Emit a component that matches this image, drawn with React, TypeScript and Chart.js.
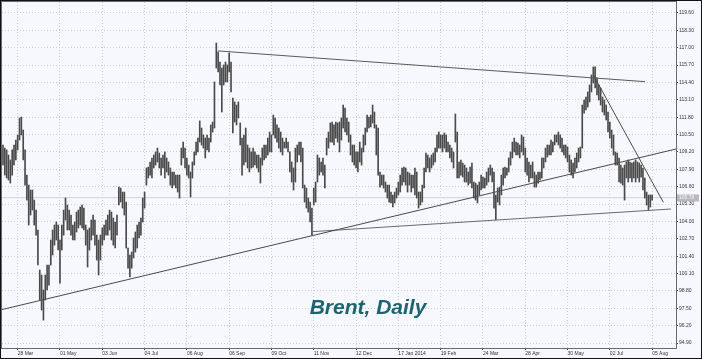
import { useEffect, useRef } from "react";
import { Chart, registerables } from "chart.js";
Chart.register(...registerables);

// Daily highs / lows of Brent (one value per trading day)
const highs = [
  110.62,110.24,109.72,109.49,109.35,108.97,108.60,109.35,109.72,110.09,
  110.47,111.74,111.81,110.84,109.35,107.47,106.72,106.35,106.35,105.60,
  104.85,103.36,100.36,99.99,98.87,99.99,100.74,100.74,102.61,103.36,
  103.73,103.96,103.73,102.61,103.73,104.85,105.75,105.23,104.85,104.48,
  103.73,103.96,104.70,104.85,105.08,105.23,105.00,103.73,103.36,103.51,
  104.11,104.48,104.11,102.98,102.61,102.98,103.51,103.73,104.11,104.48,
  104.85,104.70,104.25,
  103.96,104.48,106.57,106.50,106.20,106.20,105.45,102.01,101.49,101.71,
  102.76,103.21,103.73,103.96,104.25,105.75,106.20,108.00,108.07,108.45,
  108.75,108.97,109.20,109.49,109.12,108.75,108.97,109.20,108.75,108.45,
  108.00,107.70,107.70,107.47,107.47,107.47,109.49,109.94,109.49,108.75,
  108.22,107.70,108.45,109.20,109.94,110.24,111.52,110.99,110.47,110.24,
  110.47,110.24,111.22,111.44,114.44,117.35,116.68,115.93,115.48,115.71,
  115.93,115.71,
  116.61,115.93,113.24,112.94,112.71,112.94,111.37,110.24,110.47,110.99,
  109.72,109.49,109.20,109.49,109.20,108.97,108.97,108.75,109.49,109.72,
  109.72,110.24,110.69,110.47,111.96,111.74,111.22,110.99,110.69,110.24,
  109.94,110.24,109.94,109.20,108.45,108.00,109.49,109.72,109.94,109.94,
  109.49,106.72,106.50,105.75,105.45,105.00,106.50,106.95,108.97,108.75,
  108.45,108.75,108.22,110.24,110.69,111.37,111.44,111.22,111.44,111.37,
  111.44,111.74,
  112.71,112.49,111.74,111.44,110.47,109.72,109.72,109.20,109.20,109.94,
  109.49,110.47,110.99,111.96,111.81,111.96,112.71,112.19,111.22,110.99,
  107.70,107.47,107.47,106.95,106.72,106.72,106.20,105.98,106.20,106.50,
  106.95,107.47,108.00,108.07,108.00,107.70,107.62,107.47,107.47,108.00,
  107.70,106.20,106.20,106.72,108.00,109.12,108.97,108.75,108.97,109.12,
  109.49,110.47,110.69,110.47,110.47,110.62,110.47,109.94,109.72,109.49,
  109.20,
  112.04,110.69,108.45,108.60,108.37,108.22,108.00,107.70,108.07,108.37,
  106.95,106.87,106.72,106.95,107.47,107.32,107.25,107.70,108.00,108.22,
  108.00,107.70,105.98,106.50,106.57,107.47,108.00,108.07,108.00,108.75,
  109.20,109.94,110.24,109.94,109.87,109.72,110.47,110.32,109.49,108.75,
  108.45,108.22,108.45,107.70,107.47,107.70,107.70,108.75,108.75,109.49,
  109.72,109.72,110.09,109.94,110.47,110.47,110.69,110.47,110.24,109.72,
  109.72,
  109.57,108.97,108.60,108.37,108.75,109.12,109.49,109.57,112.71,113.09,
  113.31,113.69,114.21,114.96,115.56,115.56,114.74,114.21,113.99,113.31,
  113.09,112.71,112.19,111.44,110.84,110.47,109.20,109.12,108.75,108.22,
  108.00,108.22,108.45,108.60,108.45,108.37,108.45,108.60,108.45,108.37,
  108.22,108.00,107.25,106.20,105.98,105.98,105.98,
];

const lows = [
  109.35,108.60,108.22,107.47,107.25,107.10,106.87,107.47,108.22,108.60,
  109.35,110.09,110.47,108.60,106.72,105.60,103.73,104.48,104.85,103.73,
  102.98,100.74,98.12,97.37,96.62,98.12,98.87,99.24,100.74,101.49,
  102.23,102.61,101.86,99.39,101.86,102.98,104.11,103.36,103.36,102.98,
  102.61,102.61,103.21,103.51,103.73,103.51,103.36,102.23,100.59,101.86,
  102.61,102.98,102.23,101.11,99.99,101.11,102.23,102.61,102.98,102.98,
  103.36,102.61,102.23,
  102.01,102.98,105.23,105.45,105.00,104.48,102.01,100.51,99.84,100.51,
  101.26,101.71,102.01,102.76,102.98,103.96,105.00,106.72,107.25,107.47,
  107.25,108.00,108.22,108.45,108.00,107.47,108.00,107.25,107.70,107.47,
  106.72,106.50,106.72,106.50,106.20,105.75,108.22,108.75,108.00,107.47,
  107.25,105.83,107.25,108.22,108.97,109.20,109.94,109.72,109.49,108.75,
  109.35,109.20,109.94,110.69,110.99,115.48,115.18,114.21,112.19,114.21,
  114.44,114.44,
  115.18,113.69,110.62,111.44,111.22,111.74,109.72,107.47,108.22,108.45,
  108.00,107.70,108.00,108.07,108.22,108.00,107.70,106.87,108.22,108.60,
  108.75,108.97,109.20,109.20,110.47,110.24,109.94,109.49,109.20,108.97,
  109.49,109.49,109.20,107.70,106.95,106.35,106.95,108.45,108.97,108.45,
  106.50,105.45,105.00,104.70,103.96,102.98,105.23,105.45,106.95,107.47,
  107.70,107.47,106.50,108.97,109.49,109.94,109.94,109.72,110.24,109.94,
  109.20,110.09,
  110.99,110.69,110.47,109.94,108.97,108.45,108.22,108.00,107.70,108.45,
  108.22,109.20,109.72,110.69,110.99,111.07,111.37,110.99,108.97,107.47,
  106.57,106.72,106.50,106.20,105.75,105.45,105.38,105.08,105.38,105.75,
  105.98,106.20,106.72,106.95,106.72,106.20,106.72,106.20,106.50,105.98,
  105.75,105.00,105.23,105.45,106.50,107.70,108.00,107.70,108.00,108.22,
  108.45,109.20,109.49,109.49,109.20,109.49,109.20,109.20,108.75,108.45,
  108.00,
  109.94,107.25,107.25,107.47,107.32,106.95,106.95,106.72,106.87,106.50,
  105.75,105.60,105.38,105.98,106.35,106.50,106.50,106.72,106.95,107.47,
  106.95,105.00,104.11,105.45,105.23,105.98,106.72,107.25,107.47,107.70,
  108.22,108.75,109.20,108.97,108.97,108.75,109.20,108.97,107.70,107.47,
  106.95,107.25,107.25,106.57,106.57,106.87,107.10,107.25,108.00,108.45,
  108.82,108.97,108.97,109.20,109.72,109.94,109.72,109.49,109.20,108.97,
  108.75,
  108.45,107.70,107.47,107.25,107.70,108.00,108.45,108.75,109.49,112.11,
  112.34,112.56,112.94,113.69,114.36,113.99,113.46,113.09,112.71,112.19,
  111.96,111.59,110.69,110.24,109.49,108.97,108.22,108.22,106.95,106.87,
  106.72,105.60,107.25,106.95,107.25,106.95,107.25,106.95,107.25,106.95,
  107.32,106.35,105.75,105.23,104.85,105.08,105.60,
];

// Date axis: labels and the bar index each one sits on
const dateLabels = [
  "28 Mar", "01 May", "03 Jun", "04 Jul", "06 Aug", "06 Sep", "09 Oct", "11 Nov",
  "12 Dec", "17 Jan 2014", "19 Feb", "24 Mar", "28 Apr", "30 May", "02 Jul", "05 Aug",
];
const dateTickIdx = [10, 33, 56, 79, 102, 125, 148, 171, 194, 217, 240, 263, 286, 309, 332, 355];

// Price axis tick labels
const priceTicks = [
  119.6, 118.3, 117.0, 115.7, 114.4, 113.1, 111.8, 110.5, 109.2, 107.9,
  106.6, 105.3, 104.0, 102.7, 101.4, 100.1, 98.8, 97.5, 96.2, 94.9,
];

// Current bid
const bidPrice = 105.78;

// Trend lines: [startIndex, startPrice, endIndex, endPrice]
const supportRising = [0.38, 97.37, 367.97, 109.42];
const resistanceTop = [118.9, 116.76, 351.1, 114.46];
const supportBottom = [169.5, 103.23, 365.3, 104.93];
const resistanceSteep = [323.0, 114.96, 361.1, 105.43];

const titleText = "Brent, Daily";

const X_MIN = 1.47;
const X_MAX = 367.97;

export default function App() {
  const ref = useRef<HTMLCanvasElement | null>(null);

  useEffect(() => {
    document.body.style.margin = "0";
    const canvas = ref.current;
    if (!canvas) return;

    const lineDs = (l: number[], color: string) => ({
      type: "line" as const,
      data: [
        { x: l[0], y: l[1] },
        { x: l[2], y: l[3] },
      ],
      borderColor: color,
      borderWidth: 1,
      pointRadius: 0,
      fill: false,
      tension: 0,
      order: 0,
      clip: 0,
    });

    const font = { size: 5, family: "'Liberation Sans', Arial, sans-serif" };

    const decor = {
      id: "decor",
      beforeDraw(chart: any) {
        const ctx = chart.ctx;
        ctx.save();
        ctx.fillStyle = "#f7f8fd";
        ctx.fillRect(0, 0, chart.width, chart.height);
        ctx.restore();
      },
      afterDraw(chart: any) {
        const ctx = chart.ctx;
        const a = chart.chartArea;
        ctx.save();
        // plot frame
        ctx.strokeStyle = "#6a6a6a";
        ctx.lineWidth = 1;
        ctx.strokeRect(a.left - 0.5, a.top - 0.5, a.right - a.left + 1, a.bottom - a.top + 1);
        // outer border
        ctx.strokeStyle = "#111";
        ctx.strokeRect(0.5, 0.5, chart.width - 1, chart.height - 1);
        // title
        ctx.fillStyle = "#1b6470";
        ctx.font = "italic bold 21px 'Liberation Sans', Arial, sans-serif";
        ctx.textAlign = "center";
        ctx.textBaseline = "alphabetic";
        ctx.fillText(titleText, 368, 314);
        // bid price box
        const y = chart.scales.y.getPixelForValue(bidPrice);
        ctx.fillStyle = "#b9b9bd";
        ctx.fillRect(a.right + 1, Math.round(y) - 3.5, 22, 7);
        ctx.fillStyle = "#f4f4f4";
        ctx.font = "5px 'Liberation Sans', Arial, sans-serif";
        ctx.textAlign = "left";
        ctx.textBaseline = "middle";
        ctx.fillText(bidPrice.toFixed(2), a.right + 3, y);
        ctx.restore();
      },
    };

    const chart = new Chart(canvas, {
      type: "bar",
      data: {
        datasets: [
          {
            type: "bar",
            data: highs.map((h, i) => ({ x: i, y: [lows[i], h] })),
            backgroundColor: "#4a4a4a",
            borderWidth: 0,
            barThickness: 1,
            order: 10,
            clip: 0,
          } as any,
          lineDs(supportRising, "#4a4a4a"),
          lineDs(resistanceTop, "#5a5a5a"),
          lineDs(supportBottom, "#6a6a6a"),
          lineDs(resistanceSteep, "#4a4a4a"),
          {
            ...lineDs([X_MIN, bidPrice, X_MAX, bidPrice], "#d2d2d6"),
            order: 20,
          },
        ],
      },
      options: {
        responsive: false,
        animation: false,
        events: [],
        layout: { padding: { left: 2, top: 2, right: 0, bottom: 0 } },
        plugins: {
          legend: { display: false },
          tooltip: { enabled: false },
          title: { display: false },
        },
        scales: {
          x: {
            type: "linear",
            offset: false,
            min: X_MIN,
            max: X_MAX,
            afterBuildTicks: (s: any) => {
              s.ticks = dateTickIdx.map((v) => ({ value: v }));
            },
            afterFit: (s: any) => {
              s.height = 11;
              s.paddingLeft = 0;
              s.paddingRight = 0;
            },
            grid: {
              offset: false,
              color: "#cdcdd3",
              lineWidth: 1,
              drawTicks: true,
              tickLength: 2,
              tickColor: "#444",
              tickBorderDash: [],
            },
            border: { display: false, dash: [1, 2] },
            ticks: {
              autoSkip: false,
              maxRotation: 0,
              minRotation: 0,
              align: "start",
              padding: 1,
              color: "#333",
              font,
              callback: (v: any) => {
                const k = dateTickIdx.indexOf(Number(v));
                return k >= 0 ? dateLabels[k] : "";
              },
            },
          },
          y: {
            type: "linear",
            position: "right",
            offset: false,
            min: 94.53,
            max: 120.42,
            afterBuildTicks: (s: any) => {
              s.ticks = priceTicks.map((v) => ({ value: v }));
            },
            afterFit: (s: any) => {
              s.width = 26;
              s.paddingTop = 0;
              s.paddingBottom = 0;
            },
            grid: {
              color: "#cdcdd3",
              lineWidth: 1,
              drawTicks: true,
              tickLength: 2,
              tickColor: "#444",
              tickBorderDash: [],
            },
            border: { display: false, dash: [1, 2] },
            ticks: {
              autoSkip: false,
              padding: 1,
              color: "#333",
              font,
              callback: (v: any) => Number(v).toFixed(2),
            },
          },
        },
      } as any,
      plugins: [decor],
    });

    return () => chart.destroy();
  }, []);

  return (
    <canvas
      ref={ref}
      width={702}
      height={359}
      style={{ display: "block", width: 702, height: 359 }}
    />
  );
}
